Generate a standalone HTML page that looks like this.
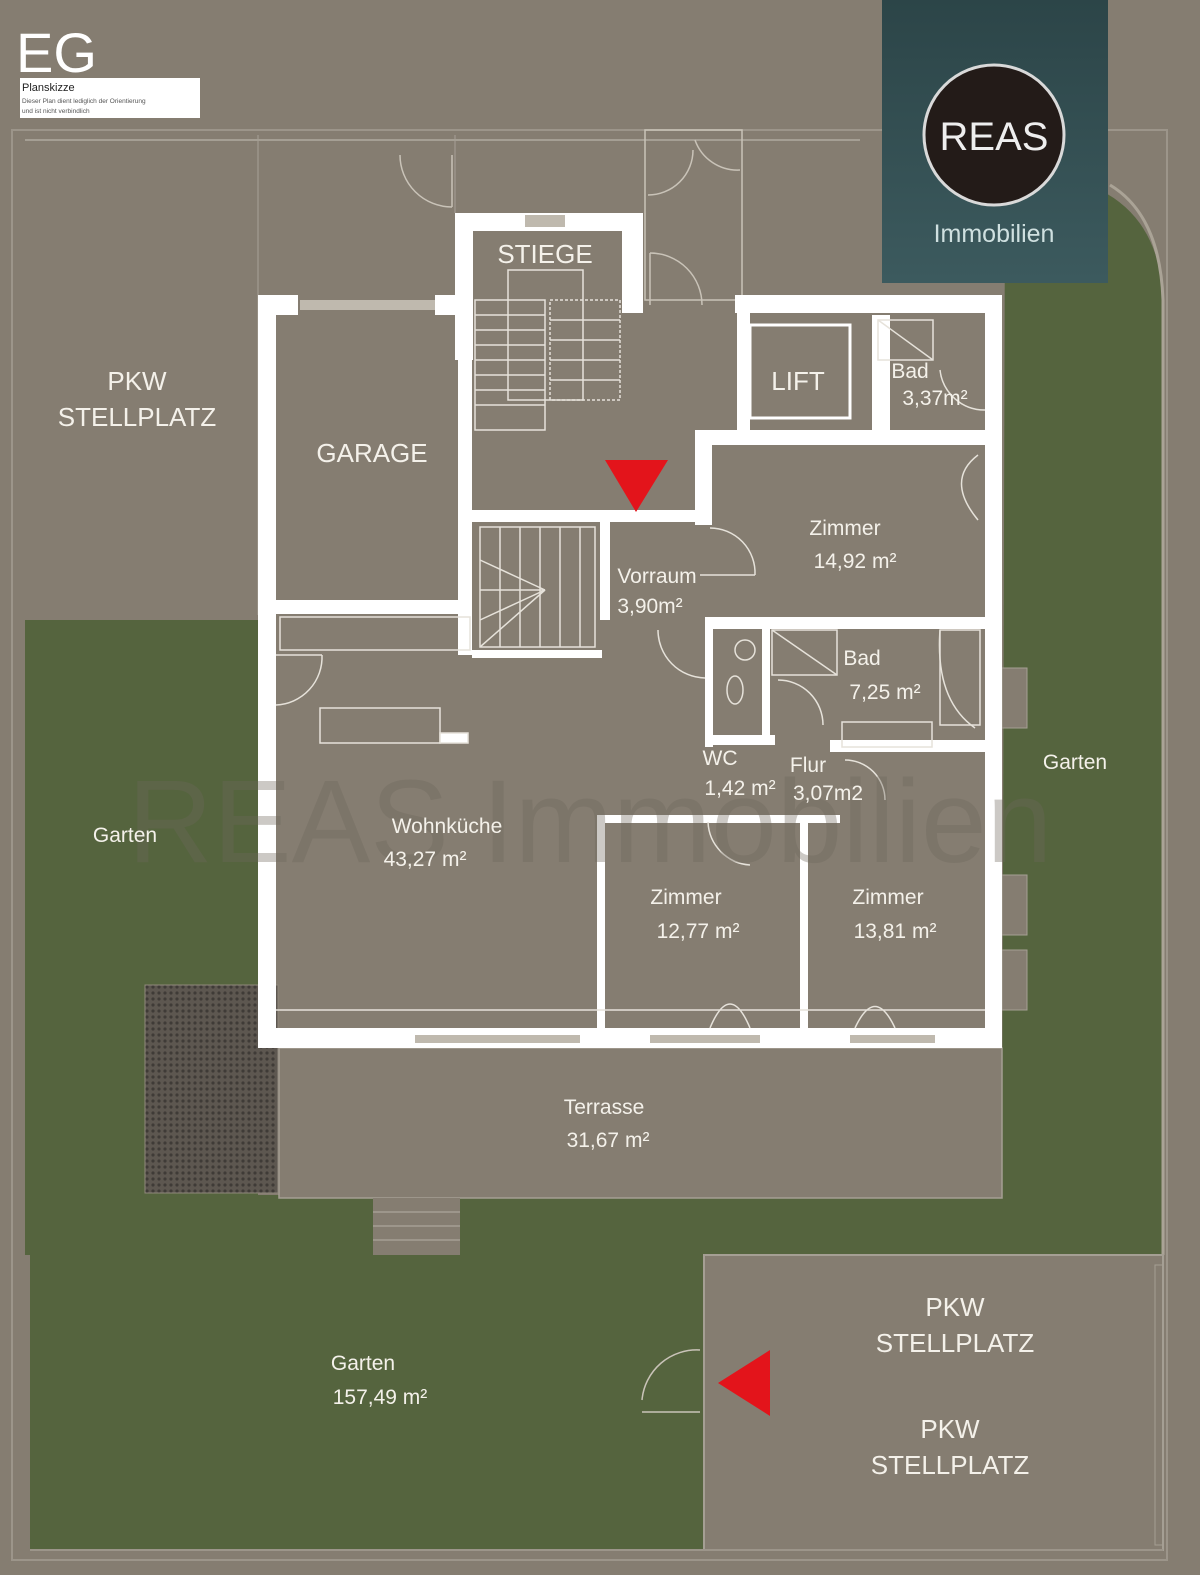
<!DOCTYPE html>
<html><head><meta charset="utf-8"><style>
html,body{margin:0;padding:0;background:#857d71}
svg{display:block}
text{font-family:"Liberation Sans",sans-serif;fill:#f4f1ea}
</style></head><body>
<svg width="1200" height="1575" viewBox="0 0 1200 1575" xmlns="http://www.w3.org/2000/svg">
<defs>
<linearGradient id="lg" x1="0" y1="0" x2="0" y2="1"><stop offset="0" stop-color="#2c4548"/><stop offset="1" stop-color="#3c5a5e"/></linearGradient>
<pattern id="hatch" width="6" height="6" patternUnits="userSpaceOnUse"><rect width="6" height="6" fill="#5d5750"/><circle cx="3" cy="3" r="1.6" fill="#3f3b37"/></pattern>
</defs>
<rect width="1200" height="1575" fill="#857d71"/>
<rect x="12" y="130" width="1155" height="1430" fill="none" stroke="#9c958a" stroke-width="2"/>
<line x1="258" y1="135" x2="258" y2="615" stroke="#9c958a" stroke-width="1.5"/>
<line x1="455" y1="135" x2="455" y2="213" stroke="#9c958a" stroke-width="1.5"/>
<line x1="25" y1="140" x2="860" y2="140" stroke="#a59f94" stroke-width="2"/>
<rect x="25" y="620" width="233" height="580" fill="#55643e"/>
<rect x="25" y="1195" width="1138" height="60" fill="#55643e"/>
<rect x="30" y="1255" width="673" height="295" fill="#55643e"/>
<path d="M1005 190 L1100 190 Q1160 220 1163 300 L1163 1200 L1002 1200 Z" fill="#55643e"/>
<path d="M1110 185 Q1160 215 1163 300 L1163 1255" fill="none" stroke="#aaa396" stroke-width="3"/>
<rect x="279" y="1048" width="723" height="150" fill="#857d71" stroke="#a59f94" stroke-width="1.5"/>
<rect x="145" y="985" width="133" height="208" fill="url(#hatch)" stroke="#8e877b"/>
<rect x="373" y="1198" width="87" height="57" fill="#857d71"/>
<g stroke="#a59f94" stroke-width="1.5"><line x1="373" y1="1212" x2="460" y2="1212"/><line x1="373" y1="1226" x2="460" y2="1226"/><line x1="373" y1="1240" x2="460" y2="1240"/></g>
<rect x="704" y="1255" width="459" height="295" fill="#857d71" stroke="#a59f94" stroke-width="2"/>
<rect x="1155" y="1265" width="8" height="280" fill="none" stroke="#a59f94"/>
<line x1="30" y1="1550" x2="1163" y2="1550" stroke="#9c958a" stroke-width="2"/>
<rect x="1002" y="668" width="25" height="60" fill="#857d71" stroke="#a59f94"/>
<rect x="1002" y="875" width="25" height="60" fill="#857d71" stroke="#a59f94"/>
<rect x="1002" y="950" width="25" height="60" fill="#857d71" stroke="#a59f94"/>
<g fill="none" stroke="#c9c3b8" stroke-width="1.5">
<path d="M400 155 A52 52 0 0 0 452 207"/><line x1="452" y1="155" x2="452" y2="207"/>
<path d="M648 195 A45 45 0 0 0 693 150"/><path d="M740 170 A45 45 0 0 1 695 140"/>
<path d="M650 253 A52 52 0 0 1 702 305"/><line x1="650" y1="253" x2="650" y2="305"/>
<rect x="645" y="130" width="97" height="170"/>
<path d="M642 1400 A55 55 0 0 1 700 1350"/><line x1="642" y1="1412" x2="700" y2="1412"/>
</g>
<g fill="#ffffff">
<rect x="258" y="295" width="18" height="753"/>
<rect x="258" y="1028" width="744" height="20"/>
<rect x="985" y="295" width="17" height="753"/>
<rect x="258" y="295" width="40" height="20"/>
<rect x="435" y="295" width="37" height="20"/>
<rect x="455" y="213" width="18" height="147"/>
<rect x="455" y="213" width="188" height="18"/>
<rect x="622" y="213" width="21" height="100"/>
<rect x="735" y="295" width="267" height="18"/>
<rect x="458" y="300" width="14" height="355"/>
<rect x="258" y="600" width="214" height="14"/>
<rect x="472" y="510" width="238" height="12"/>
<rect x="695" y="430" width="17" height="95"/>
<rect x="695" y="430" width="290" height="15"/>
<rect x="737" y="295" width="13" height="135"/>
<rect x="872" y="315" width="18" height="120"/>
<rect x="705" y="617" width="280" height="12"/>
<rect x="472" y="650" width="130" height="8"/>
<rect x="600" y="520" width="10" height="100"/>
<rect x="705" y="617" width="8" height="130"/>
<rect x="762" y="625" width="8" height="110"/>
<rect x="705" y="735" width="70" height="10"/>
<rect x="830" y="740" width="155" height="12"/>
<rect x="597" y="815" width="243" height="8"/>
<rect x="597" y="815" width="8" height="213"/>
<rect x="800" y="815" width="8" height="213"/>
</g>
<g fill="#bfb9ae"><rect x="300" y="300" width="135" height="10"/><rect x="415" y="1035" width="165" height="8"/><rect x="650" y="1035" width="110" height="8"/><rect x="850" y="1035" width="85" height="8"/><rect x="525" y="215" width="40" height="12"/></g>
<rect x="750" y="325" width="100" height="93" fill="#857d71" stroke="#fff" stroke-width="3"/>
<g fill="none" stroke="#e6e2da" stroke-width="1.5">
<rect x="475" y="300" width="70" height="130"/>
<g><line x1="475" y1="315" x2="545" y2="315"/><line x1="475" y1="330" x2="545" y2="330"/><line x1="475" y1="345" x2="545" y2="345"/><line x1="475" y1="360" x2="545" y2="360"/><line x1="475" y1="375" x2="545" y2="375"/><line x1="475" y1="390" x2="545" y2="390"/><line x1="475" y1="405" x2="545" y2="405"/></g>
<rect x="550" y="300" width="70" height="100" stroke-dasharray="3 2"/>
<g><line x1="550" y1="320" x2="620" y2="320"/><line x1="550" y1="340" x2="620" y2="340"/><line x1="550" y1="360" x2="620" y2="360"/><line x1="550" y1="380" x2="620" y2="380"/></g>
<rect x="508" y="270" width="75" height="130"/>
<rect x="480" y="527" width="115" height="120"/>
<g><line x1="500" y1="527" x2="500" y2="647"/><line x1="520" y1="527" x2="520" y2="647"/><line x1="540" y1="527" x2="540" y2="647"/><line x1="560" y1="527" x2="560" y2="647"/><line x1="580" y1="527" x2="580" y2="647"/><line x1="480" y1="647" x2="545" y2="590"/><line x1="480" y1="620" x2="545" y2="590"/><line x1="480" y1="590" x2="545" y2="590"/><line x1="480" y1="560" x2="545" y2="590"/></g>
<rect x="280" y="617" width="190" height="33"/>
<rect x="320" y="708" width="120" height="35"/><rect x="440" y="733" width="28" height="10" fill="#fff"/>
<path d="M276 705 A48 48 0 0 0 322 655"/><line x1="276" y1="655" x2="322" y2="655"/>
<path d="M710 528 A45 45 0 0 1 755 575"/><line x1="700" y1="575" x2="755" y2="575"/>
<path d="M658 630 A48 48 0 0 0 705 678"/>
<path d="M708 822 A45 45 0 0 0 750 865"/>
<path d="M845 760 A40 40 0 0 1 885 800"/>
<path d="M710 1028 Q730 980 750 1028"/><path d="M855 1028 Q875 985 895 1028"/>
<path d="M978 455 Q945 480 978 520"/>
<path d="M940 370 A45 45 0 0 0 985 410"/>
<path d="M940 630 Q935 700 975 728"/>
<rect x="842" y="722" width="90" height="25"/>
<rect x="772" y="630" width="65" height="45"/><line x1="772" y1="630" x2="837" y2="675"/>
<rect x="878" y="320" width="55" height="40"/><line x1="878" y1="320" x2="933" y2="360"/>
<path d="M778 680 A45 45 0 0 1 823 725"/>
<circle cx="745" cy="650" r="10"/><ellipse cx="735" cy="690" rx="8" ry="14"/>
<rect x="940" y="630" width="40" height="95"/>
<line x1="276" y1="1010" x2="985" y2="1010"/>
</g>
<text x="590" y="862" text-anchor="middle" font-size="118" style="fill:#6e675c;opacity:0.35">REAS Immobilien</text>
<polygon points="605,460 668,460 636,512" fill="#e3141b"/>
<polygon points="770,1350 770,1416 718,1383" fill="#e3141b"/>
<text x="16" y="72" font-size="56" style="fill:#fff">EG</text>
<rect x="20" y="78" width="180" height="40" fill="#fff"/>
<text x="22" y="91" font-size="11" style="fill:#222">Planskizze</text>
<text x="22" y="103" font-size="6.5" style="fill:#555">Dieser Plan dient lediglich der Orientierung</text>
<text x="22" y="113" font-size="6.5" style="fill:#555">und ist nicht verbindlich</text>
<rect x="882" y="0" width="226" height="283" fill="url(#lg)"/>
<circle cx="994" cy="135" r="70" fill="#231b18" stroke="#d9d9d9" stroke-width="3"/>
<text x="994" y="150" text-anchor="middle" font-size="40" style="fill:#eee">REAS</text>
<text x="994" y="242" text-anchor="middle" font-size="25" style="fill:#cfe0e0">Immobilien</text>
<g font-size="26" text-anchor="middle">
<text x="137" y="390">PKW</text><text x="137" y="426">STELLPLATZ</text>
<text x="372" y="462">GARAGE</text>
<text x="545" y="263">STIEGE</text>
<text x="798" y="390">LIFT</text>
<text x="955" y="1316">PKW</text><text x="955" y="1352">STELLPLATZ</text>
<text x="950" y="1438">PKW</text><text x="950" y="1474">STELLPLATZ</text>
</g>
<g font-size="21" text-anchor="middle">
<text x="845" y="535">Zimmer</text><text x="855" y="568">14,92 m²</text>
<text x="657" y="583">Vorraum</text><text x="650" y="613">3,90m²</text>
<text x="910" y="378">Bad</text><text x="935" y="405">3,37m²</text>
<text x="862" y="665">Bad</text><text x="885" y="699">7,25 m²</text>
<text x="720" y="765">WC</text><text x="740" y="795">1,42 m²</text>
<text x="808" y="772">Flur</text><text x="828" y="800">3,07m2</text>
<text x="447" y="833">Wohnküche</text><text x="425" y="866">43,27 m²</text>
<text x="686" y="904">Zimmer</text><text x="698" y="938">12,77 m²</text>
<text x="888" y="904">Zimmer</text><text x="895" y="938">13,81 m²</text>
<text x="125" y="842">Garten</text>
<text x="1075" y="769">Garten</text>
<text x="604" y="1114">Terrasse</text><text x="608" y="1147">31,67 m²</text>
<text x="363" y="1370">Garten</text><text x="380" y="1404">157,49 m²</text>
</g>
</svg>
</body></html>
